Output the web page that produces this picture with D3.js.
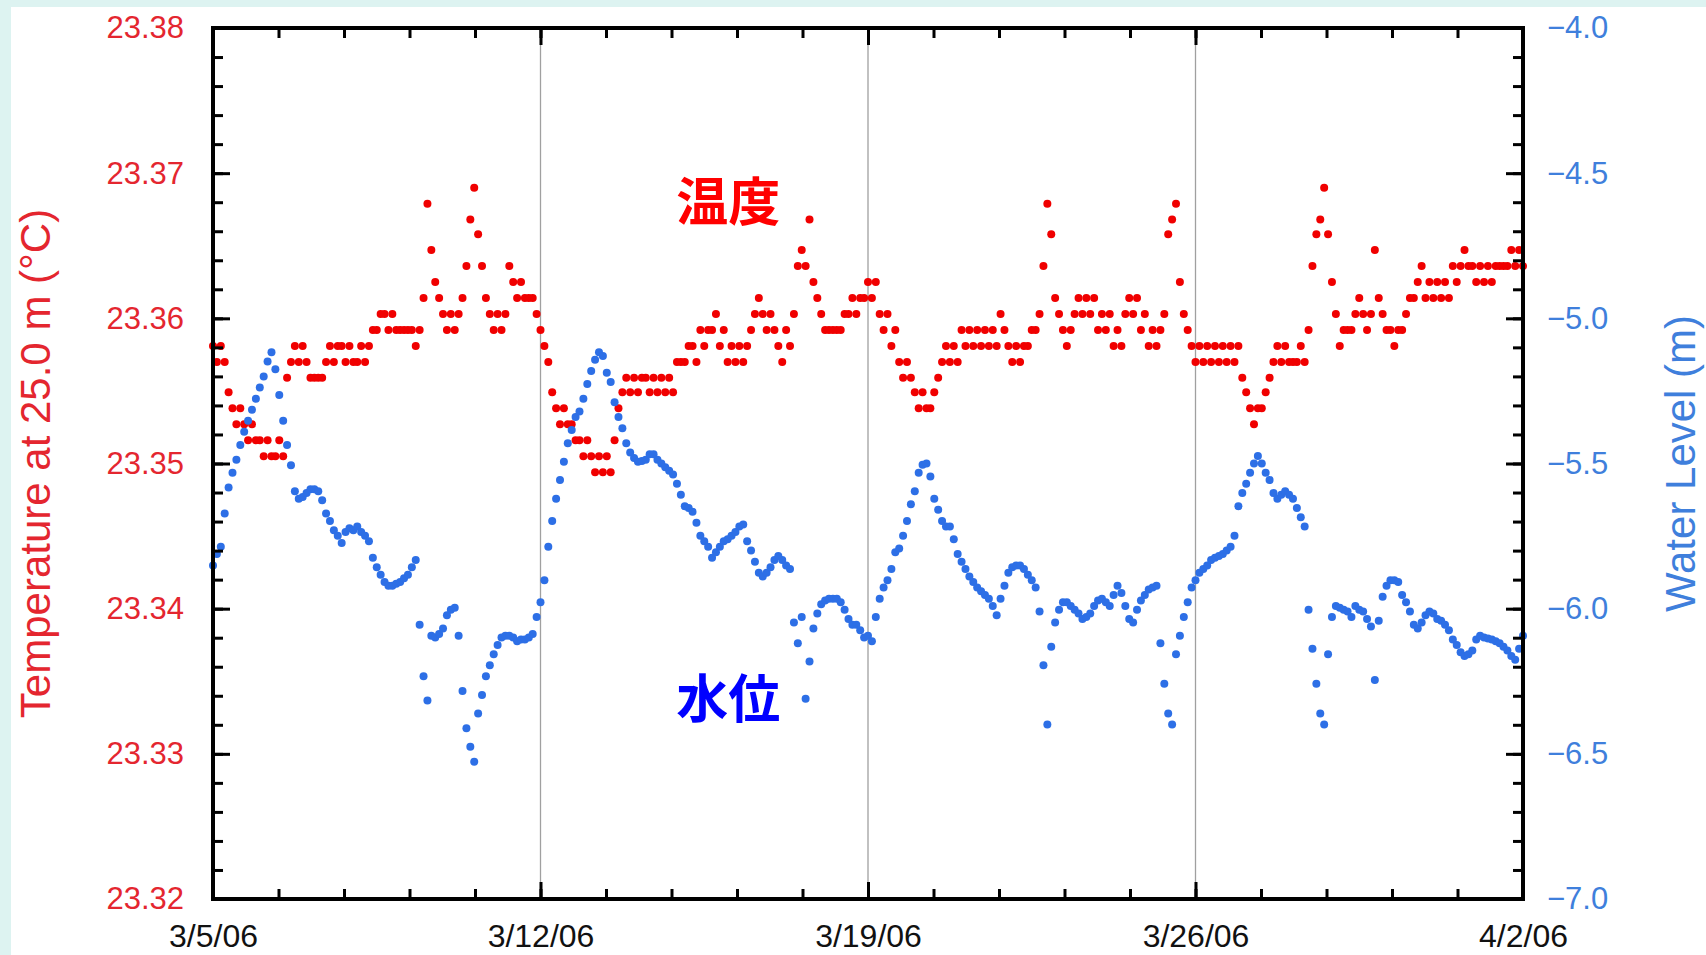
<!DOCTYPE html>
<html>
  <head>
    <title>温度と水位</title>
    <meta charset="utf-8">
    <style>
      body {
        padding: 0;
        margin: 0;
        background: #fff;
      }
      #chart > svg {
        display: block;
      }
    </style>
  </head>
  <body>
    <div id="chart"></div>
    <script src="https://cdn.jsdelivr.net/npm/d3@7"></script>
    <script>
      // tick labels of the date axis, one a week
      var dateLabels = ["3/5/06", "3/12/06", "3/19/06", "3/26/06", "4/2/06"];

      // one reading every 2 hours from 3/5/06 00:00
      var stepHours = 2;

      // temperature at 25.0 m (°C)
      var temperature = [
        23.3581,23.3570,23.3581,23.3570,23.3549,23.3538,23.3527,23.3538,23.3527,23.3516,23.3527,23.3516,
        23.3516,23.3505,23.3516,23.3505,23.3505,23.3516,23.3505,23.3559,23.3570,23.3581,23.3570,23.3581,
        23.3570,23.3559,23.3559,23.3559,23.3559,23.3570,23.3581,23.3570,23.3581,23.3581,23.3570,23.3581,
        23.3570,23.3570,23.3581,23.3570,23.3581,23.3592,23.3592,23.3603,23.3603,23.3592,23.3603,23.3592,
        23.3592,23.3592,23.3592,23.3592,23.3581,23.3592,23.3614,23.3679,23.3647,23.3625,23.3614,23.3603,
        23.3592,23.3603,23.3592,23.3603,23.3614,23.3636,23.3668,23.3690,23.3658,23.3636,23.3614,23.3603,
        23.3592,23.3603,23.3592,23.3603,23.3636,23.3625,23.3614,23.3625,23.3614,23.3614,23.3614,23.3603,
        23.3592,23.3581,23.3570,23.3549,23.3538,23.3527,23.3538,23.3527,23.3527,23.3516,23.3516,23.3505,
        23.3516,23.3505,23.3494,23.3505,23.3494,23.3505,23.3494,23.3516,23.3538,23.3549,23.3559,23.3549,
        23.3559,23.3549,23.3559,23.3559,23.3549,23.3559,23.3549,23.3559,23.3549,23.3559,23.3549,23.3570,
        23.3570,23.3570,23.3581,23.3581,23.3570,23.3592,23.3581,23.3592,23.3592,23.3603,23.3581,23.3592,
        23.3570,23.3581,23.3570,23.3581,23.3570,23.3581,23.3592,23.3603,23.3614,23.3603,23.3592,23.3603,
        23.3592,23.3581,23.3570,23.3592,23.3581,23.3603,23.3636,23.3647,23.3636,23.3668,23.3625,23.3614,
        23.3603,23.3592,23.3592,23.3592,23.3592,23.3592,23.3603,23.3603,23.3614,23.3603,23.3614,23.3614,
        23.3625,23.3614,23.3625,23.3603,23.3592,23.3603,23.3581,23.3592,23.3570,23.3559,23.3570,23.3559,
        23.3549,23.3538,23.3549,23.3538,23.3538,23.3549,23.3559,23.3570,23.3581,23.3570,23.3581,23.3570,
        23.3592,23.3581,23.3592,23.3581,23.3592,23.3581,23.3592,23.3581,23.3592,23.3581,23.3603,23.3592,
        23.3581,23.3570,23.3581,23.3570,23.3581,23.3581,23.3592,23.3592,23.3603,23.3636,23.3679,23.3658,
        23.3614,23.3603,23.3592,23.3581,23.3592,23.3603,23.3614,23.3603,23.3614,23.3603,23.3614,23.3592,
        23.3603,23.3592,23.3603,23.3581,23.3592,23.3581,23.3603,23.3614,23.3603,23.3614,23.3592,23.3603,
        23.3581,23.3592,23.3581,23.3592,23.3603,23.3658,23.3668,23.3679,23.3625,23.3603,23.3592,23.3581,
        23.3570,23.3581,23.3570,23.3581,23.3570,23.3581,23.3570,23.3581,23.3570,23.3581,23.3570,23.3581,
        23.3559,23.3549,23.3538,23.3527,23.3538,23.3538,23.3549,23.3559,23.3570,23.3581,23.3570,23.3581,
        23.3570,23.3570,23.3570,23.3581,23.3570,23.3592,23.3636,23.3658,23.3668,23.3690,23.3658,23.3625,
        23.3603,23.3581,23.3592,23.3592,23.3592,23.3603,23.3614,23.3603,23.3592,23.3603,23.3647,23.3614,
        23.3603,23.3592,23.3592,23.3581,23.3592,23.3592,23.3603,23.3614,23.3614,23.3625,23.3636,23.3614,
        23.3625,23.3614,23.3625,23.3614,23.3625,23.3614,23.3636,23.3625,23.3636,23.3647,23.3636,23.3636,
        23.3625,23.3636,23.3625,23.3636,23.3625,23.3636,23.3636,23.3636,23.3636,23.3647,23.3636,23.3647,
        23.3636
      ];

      // water level (m)
      var waterLevel = [
        -5.851,-5.812,-5.787,-5.672,-5.583,-5.532,-5.487,-5.436,-5.391,-5.353,-5.315,-5.277,
        -5.238,-5.200,-5.149,-5.117,-5.175,-5.264,-5.353,-5.436,-5.506,-5.596,-5.621,-5.615,
        -5.602,-5.589,-5.589,-5.596,-5.627,-5.672,-5.698,-5.730,-5.749,-5.774,-5.736,-5.723,
        -5.730,-5.717,-5.736,-5.749,-5.768,-5.825,-5.857,-5.883,-5.908,-5.921,-5.921,-5.914,
        -5.908,-5.895,-5.883,-5.857,-5.832,-6.055,-6.233,-6.316,-6.093,-6.099,-6.087,-6.068,
        -6.023,-6.004,-5.997,-6.093,-6.284,-6.412,-6.476,-6.527,-6.361,-6.297,-6.233,-6.195,
        -6.157,-6.125,-6.099,-6.093,-6.093,-6.099,-6.112,-6.106,-6.106,-6.099,-6.087,-6.029,
        -5.978,-5.902,-5.787,-5.698,-5.621,-5.557,-5.494,-5.430,-5.385,-5.340,-5.321,-5.277,
        -5.226,-5.181,-5.143,-5.117,-5.130,-5.187,-5.219,-5.289,-5.340,-5.379,-5.430,-5.462,
        -5.481,-5.494,-5.491,-5.487,-5.468,-5.468,-5.487,-5.500,-5.513,-5.525,-5.538,-5.570,
        -5.608,-5.647,-5.653,-5.666,-5.704,-5.749,-5.768,-5.787,-5.825,-5.806,-5.787,-5.768,
        -5.761,-5.749,-5.736,-5.717,-5.710,-5.768,-5.800,-5.838,-5.876,-5.889,-5.876,-5.857,
        -5.832,-5.819,-5.832,-5.851,-5.863,-6.048,-6.119,-6.029,-6.310,-6.182,-6.068,-6.017,
        -5.985,-5.972,-5.966,-5.966,-5.966,-5.978,-6.004,-6.036,-6.055,-6.055,-6.074,-6.099,
        -6.093,-6.112,-6.029,-5.966,-5.927,-5.902,-5.863,-5.806,-5.793,-5.749,-5.698,-5.640,
        -5.596,-5.532,-5.504,-5.500,-5.545,-5.621,-5.659,-5.698,-5.717,-5.717,-5.761,-5.812,
        -5.838,-5.863,-5.889,-5.908,-5.927,-5.940,-5.953,-5.966,-5.991,-6.023,-5.966,-5.921,
        -5.876,-5.857,-5.851,-5.851,-5.863,-5.883,-5.902,-5.927,-6.010,-6.195,-6.399,-6.131,
        -6.048,-6.004,-5.978,-5.978,-5.991,-6.004,-6.017,-6.036,-6.029,-6.017,-5.991,-5.972,
        -5.966,-5.978,-5.991,-5.953,-5.921,-5.946,-5.991,-6.036,-6.048,-6.004,-5.972,-5.953,
        -5.934,-5.927,-5.921,-6.119,-6.259,-6.361,-6.399,-6.157,-6.093,-6.029,-5.978,-5.927,
        -5.902,-5.876,-5.863,-5.851,-5.832,-5.825,-5.819,-5.812,-5.800,-5.787,-5.749,-5.647,
        -5.602,-5.570,-5.532,-5.500,-5.474,-5.500,-5.532,-5.557,-5.602,-5.621,-5.608,-5.596,
        -5.608,-5.621,-5.653,-5.685,-5.717,-6.004,-6.138,-6.259,-6.361,-6.399,-6.157,-6.029,
        -5.991,-5.997,-6.004,-6.010,-6.029,-5.991,-6.004,-6.010,-6.036,-6.061,-6.246,-6.042,
        -5.959,-5.921,-5.902,-5.902,-5.908,-5.953,-5.978,-6.010,-6.055,-6.068,-6.048,-6.023,
        -6.010,-6.017,-6.036,-6.042,-6.055,-6.074,-6.106,-6.125,-6.150,-6.163,-6.157,-6.144,
        -6.106,-6.093,-6.099,-6.103,-6.106,-6.112,-6.119,-6.131,-6.144,-6.163,-6.176,-6.138,
        -6.093
      ];

      // the two labels inside the plot, placed in data units
      var notes = [
        {text: "温度", day: 9.9, temp: 23.3667, color: "#ff0000"},
        {text: "水位", day: 9.9, temp: 23.3325, color: "#0000ff"}
      ];

      var width = 1706, height = 955,
          plot = {left: 213, right: 1523, top: 28, bottom: 899};

      var red = "#f00000", blue = "#2d6fe6",
          redText = "#e4262f", blueText = "#3f7fdc",
          font = "'Liberation Sans', Arial, sans-serif";

      var svg = d3.select("#chart").append("svg")
        .attr("width", width)
        .attr("height", height);

      // pale frame of the page at the top and left
      svg.append("rect").attr("width", width).attr("height", 7).attr("fill", "#ddf3f1");
      svg.append("rect").attr("width", 11).attr("height", height).attr("fill", "#ddf3f1");

      var days = (dateLabels.length - 1) * 7;

      var x = d3.scaleLinear().domain([0, days]).range([plot.left, plot.right]),
          yT = d3.scaleLinear().domain([23.32, 23.38]).range([plot.bottom, plot.top]),
          yW = d3.scaleLinear().domain([-7, -4]).range([plot.bottom, plot.top]);

      var dayOf = i => i * stepHours / 24;

      var majorX = d3.range(0, days + 1, 7),
          minorX = d3.range(0, days + 0.001, 1.4),
          majorT = d3.range(0, 7).map(k => 23.32 + k * 0.01),
          minorT = d3.range(0, 31).map(k => 23.32 + k * 0.002),
          majorW = d3.range(0, 7).map(k => -7 + k * 0.5),
          minorW = d3.range(0, 31).map(k => -7 + k * 0.1);

      // weekly grid lines
      svg.append("g")
        .selectAll("line")
        .data(majorX.slice(1, -1))
        .enter().append("line")
          .attr("x1", d => x(d))
          .attr("x2", d => x(d))
          .attr("y1", plot.top)
          .attr("y2", plot.bottom)
          .attr("stroke", "#a0a0a0")
          .attr("stroke-width", 1.3);

      // temperature dots, then water level on top
      svg.append("g")
        .selectAll("circle")
        .data(temperature)
        .enter().append("circle")
          .attr("cx", (d, i) => x(dayOf(i)))
          .attr("cy", d => yT(d))
          .attr("r", 4)
          .attr("fill", red);

      svg.append("g")
        .selectAll("circle")
        .data(waterLevel)
        .enter().append("circle")
          .attr("cx", (d, i) => x(dayOf(i)))
          .attr("cy", d => yW(d))
          .attr("r", 4)
          .attr("fill", blue);

      // d3.axis sets its own font, so restyle after the call
      function styleAxis(g, color, size) {
        g.select(".domain").remove();
        g.selectAll(".tick line")
          .attr("stroke", "#000")
          .attr("stroke-width", 3);
        g.attr("font-family", font)
          .attr("font-size", size || 10);
        g.selectAll(".tick text").attr("fill", color);
      }

      // bottom axis with date labels
      svg.append("g")
        .attr("transform", "translate(0," + plot.bottom + ")")
        .call(d3.axisBottom(x).tickValues(minorX).tickSize(-10).tickFormat(""))
        .call(styleAxis, "#000");
      svg.append("g")
        .attr("transform", "translate(0," + plot.bottom + ")")
        .call(d3.axisBottom(x).tickValues(majorX).tickSize(-17).tickPadding(25)
          .tickFormat((d, i) => dateLabels[i]))
        .call(styleAxis, "#111", 32);

      // top axis, ticks only
      svg.append("g")
        .attr("transform", "translate(0," + plot.top + ")")
        .call(d3.axisTop(x).tickValues(minorX).tickSize(-10).tickFormat(""))
        .call(styleAxis, "#000");
      svg.append("g")
        .attr("transform", "translate(0," + plot.top + ")")
        .call(d3.axisTop(x).tickValues(majorX).tickSize(-17).tickFormat(""))
        .call(styleAxis, "#000");

      // left axis, temperature
      svg.append("g")
        .attr("transform", "translate(" + plot.left + ",0)")
        .call(d3.axisLeft(yT).tickValues(minorT).tickSize(-10).tickFormat(""))
        .call(styleAxis, "#000");
      svg.append("g")
        .attr("transform", "translate(" + plot.left + ",0)")
        .call(d3.axisLeft(yT).tickValues(majorT).tickSize(-17).tickPadding(29)
          .tickFormat(d3.format(".2f")))
        .call(styleAxis, redText, 31);

      // right axis, water level
      svg.append("g")
        .attr("transform", "translate(" + plot.right + ",0)")
        .call(d3.axisRight(yW).tickValues(minorW).tickSize(-10).tickFormat(""))
        .call(styleAxis, "#000");
      svg.append("g")
        .attr("transform", "translate(" + plot.right + ",0)")
        .call(d3.axisRight(yW).tickValues(majorW).tickSize(-17).tickPadding(24)
          .tickFormat(d3.format(".1f")))
        .call(styleAxis, blueText, 31);

      // frame
      svg.append("rect")
        .attr("x", plot.left)
        .attr("y", plot.top)
        .attr("width", plot.right - plot.left)
        .attr("height", plot.bottom - plot.top)
        .attr("fill", "none")
        .attr("stroke", "#000")
        .attr("stroke-width", 4);

      // axis titles
      svg.append("text")
        .attr("transform", "translate(50," + (plot.top + plot.bottom) / 2 + ") rotate(-90)")
        .attr("text-anchor", "middle")
        .attr("font-family", font)
        .attr("font-size", 42)
        .attr("fill", redText)
        .text("Temperature at 25.0 m (°C)");

      svg.append("text")
        .attr("transform", "translate(1695," + (plot.top + plot.bottom) / 2 + ") rotate(-90)")
        .attr("text-anchor", "middle")
        .attr("font-family", font)
        .attr("font-size", 42)
        .attr("fill", blueText)
        .text("Water Level (m)");

      // series names
      svg.append("g")
        .selectAll("text")
        .data(notes)
        .enter().append("text")
          .attr("x", d => x(d.day))
          .attr("y", d => yT(d.temp))
          .attr("font-family", "'Noto Sans CJK JP', sans-serif")
          .attr("font-weight", "bold")
          .attr("font-size", 52)
          .attr("fill", d => d.color)
          .text(d => d.text);
    </script>
  </body>
</html>
